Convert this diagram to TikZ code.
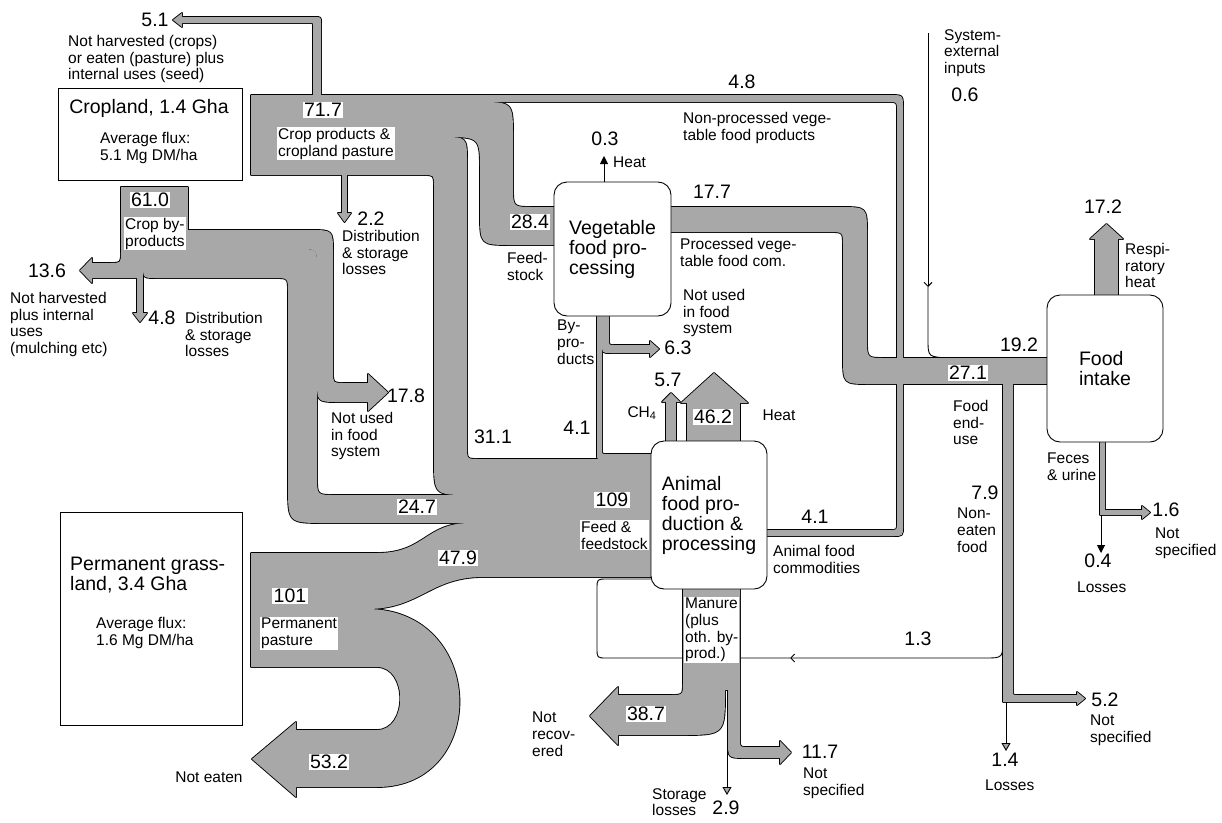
\documentclass[tikz,border=0pt]{standalone}
\usepackage{fontspec}
\setmainfont{Liberation Sans}
\usepackage{tikz}
\usetikzlibrary{arrows.meta}
\definecolor{BandGray}{HTML}{A8A8A8}
\newcommand{\numfont}{\fontsize{19.5}{21}\selectfont}
\newcommand{\lblfont}{\fontsize{15.5}{16.7}\selectfont}
\newcommand{\ttlfont}{\fontsize{19.5}{20}\selectfont}

\begin{document}
\begin{tikzpicture}[
  x=1pt,y=-1pt,
  band/.style={fill=BandGray},
  bandedge/.style={draw=black,line width=1.8pt,line join=round},
  procbox/.style={draw,fill=white,rounded corners=13pt,line width=0.9pt,align=left,font=\ttlfont,inner sep=0pt},
  landbox/.style={draw,fill=white,line width=0.9pt,inner sep=0pt},
  num/.style={font=\numfont,inner sep=0pt},
  tag/.style={num,fill=white,inner sep=1.5pt},
  lbl/.style={font=\lblfont,align=left,inner sep=0pt,anchor=north west},
  lbltag/.style={lbl,fill=white,inner sep=1pt},
  flowline/.style={line width=0.9pt},
  tip/.style={-{Triangle[length=8pt,width=8pt]}},
  opentip/.style={-{Triangle[length=8pt,width=9pt,fill=BandGray]}},
  barb/.style={-{Straight Barb[length=4pt,width=8pt]}},
  % cropland: crop products and by-products
  stem61/.style={insert path={(121,187) -- (188,187) -- (188,252) -- (121,252) -- cycle}},
  f51/.style={insert path={(313,100) -- (313,25) .. controls (313,23) .. (311,23) -- (178,23) -- (178,17) -- (315,17) .. controls (321,17) .. (321,23) -- (321,100) -- cycle}},
  h51/.style={insert path={(182,13) -- (173,20) -- (182,27) -- cycle}},
  f48top/.style={insert path={(251,95) -- (890,95) .. controls (903,95) .. (903,108) -- (903,372) -- (897,372) -- (897,110) .. controls (897,102) .. (889,102) -- (251,102) -- cycle}},
  f284/.style={insert path={(251,102) -- (478,102) .. controls (513,102) .. (513,137) -- (513,187) .. controls (513,207) .. (533,207) -- (565,207) -- (565,245) -- (512,245) .. controls (480,245) .. (480,213) -- (480,172) .. controls (480,137) .. (443,137) -- (251,137) -- cycle}},
  f311/.style={insert path={(251,137) -- (442,137) .. controls (467,137) .. (467,162) -- (467,447) .. controls (467,459) .. (479,459) -- (660,459) -- (660,495) -- (470,495) .. controls (434,495) .. (434,459) -- (434,186) .. controls (434,175) .. (423,175) -- (251,175) -- cycle}},
  f22/.style={insert path={(342,170) -- (347,170) -- (347,215) -- (342,215) -- cycle}},
  h22/.style={insert path={(338,213) -- (344.5,222) -- (351,213) -- cycle}},
  f136/.style={insert path={(121,240) -- (140,240) -- (140,278) -- (88,278) -- (88,263) -- (110,263) .. controls (121,263) .. (121,252) -- cycle}},
  h136/.style={insert path={(92,258) -- (80,270.5) -- (92,283) -- cycle}},
  f48low/.style={insert path={(137,240) -- (143,240) -- (143,315) -- (137,315) -- cycle}},
  h48low/.style={insert path={(133,313) -- (140,322) -- (147,313) -- cycle}},
  f178/.style={insert path={(140,230) -- (310,230) .. controls (333,230) .. (333,253) -- (333,372) .. controls (333,383) .. (344,383) -- (372,383) -- (372,402) -- (339,402) .. controls (317,402) .. (317,380) -- (317,267) .. controls (317,249) .. (299,249) -- (140,249) -- cycle}},
  h178/.style={insert path={(368,374) -- (388,392.5) -- (368,411) -- cycle}},
  f247/.style={insert path={(143,249) -- (299,249) .. controls (317,249) .. (317,267) -- (317,477) .. controls (317,495) .. (335,495) -- (660,495) -- (660,523) -- (325,523) .. controls (288,523) .. (288,486) -- (288,292) .. controls (288,278) .. (274,278) -- (156,278) .. controls (143,278) .. (143,265) -- cycle}},
  % permanent grassland
  f479/.style={insert path={(251,553) -- (377,553) .. controls (425,553) and (425,523) .. (470,523) -- (660,523) -- (660,577) -- (483,577) .. controls (430,577) and (420,609) .. (367,609) -- (251,609) -- cycle}},
  f532/.style={insert path={(251,609) -- (367,609) .. controls (487,609) and (490,787) .. (377,787) -- (290,787) -- (290,730) -- (377,730) .. controls (408,730) and (408,667) .. (377,667) -- (251,667) -- cycle}},
  h532/.style={insert path={(296,722) -- (252,759) -- (296,797) -- cycle}},
  % vegetable processing
  f41veg/.style={insert path={(597,305) -- (602,305) -- (602,450) .. controls (602,454) .. (606,454) -- (660,454) -- (660,459) -- (601,459) .. controls (597,459) .. (597,455) -- cycle}},
  f63/.style={insert path={(602,305) -- (609,305) -- (609,340) .. controls (609,345) .. (614,345) -- (652,345) -- (652,353) -- (611,353) .. controls (602,353) .. (602,344) -- cycle}},
  h63/.style={insert path={(650,341) -- (659,349) -- (650,357) -- cycle}},
  f177/.style={insert path={(660,207) -- (840,207) .. controls (867,207) .. (867,234) -- (867,340) .. controls (867,358) .. (885,358) -- (900,358) -- (900,384) -- (870,384) .. controls (843,384) .. (843,357) -- (843,246) .. controls (843,232) .. (829,232) -- (660,232) -- cycle}},
  % animal food production
  fch4/.style={insert path={(666,450) -- (666,400) -- (676,400) -- (676,450) -- cycle}},
  hch4/.style={insert path={(662,402) -- (671,393) -- (680,402) -- cycle}},
  fheat/.style={insert path={(687,450) -- (687,400) -- (740,400) -- (740,450) -- cycle}},
  hheat/.style={insert path={(681,403) -- (714,373) -- (748,403) -- cycle}},
  f41ani/.style={insert path={(755,530) -- (890,530) .. controls (897,530) .. (897,523) -- (897,378) -- (903,378) -- (903,526) .. controls (903,536) .. (893,536) -- (755,536) -- cycle}},
  f387/.style={insert path={(683,580) -- (725,580) -- (725,690) .. controls (725,735) .. (680,735) -- (612,735) -- (612,695) -- (670,695) .. controls (683,695) .. (683,682) -- cycle}},
  h387/.style={insert path={(618,687) -- (590,716) -- (618,745) -- cycle}},
  f117/.style={insert path={(725,580) -- (740,580) -- (740,740) .. controls (740,747) .. (747,747) -- (782,747) -- (782,758) -- (745,758) .. controls (728,758) .. (728,741) -- (728,690) -- (725,690) -- cycle}},
  h117/.style={insert path={(780,741) -- (791,752.5) -- (780,764) -- cycle}},
  % food end-use and intake
  fjunc/.style={insert path={(880,358) -- (1055,358) -- (1055,384) -- (880,384) -- cycle}},
  f52/.style={insert path={(1003,378) -- (1013,378) -- (1013,691) .. controls (1013,695) .. (1017,695) -- (1080,695) -- (1080,702) -- (1003,702) -- cycle}},
  h52/.style={insert path={(1077,692) -- (1085,698.5) -- (1077,705) -- cycle}},
  fresp/.style={insert path={(1095,300) -- (1095,237) -- (1118,237) -- (1118,300) -- cycle}},
  hresp/.style={insert path={(1090,239) -- (1106.5,224) -- (1123,239) -- cycle}},
  ffeces/.style={insert path={(1100,436) -- (1105,436) -- (1105,510) -- (1144,510) -- (1144,515) -- (1100,515) -- cycle}},
  h16/.style={insert path={(1142,506) -- (1150,512.5) -- (1142,519) -- cycle}}
]
  \useasboundingbox[fill=white] (0,0) rectangle (1222,822);

  % thin flows that run under the bands
  \coordinate (extin) at (928,33);
  \coordinate (extmid) at (928,287);
  \coordinate (extend) at (950,358);
  \coordinate (retstart) at (1003,638);
  \coordinate (retmid) at (790,658);
  \coordinate (retin) at (651,579);
  \draw[flowline,barb] (extin) -- (extmid);
  \draw[flowline] (extmid) -- (928,340) .. controls (928,357) .. (extend);
  \draw[flowline,barb] (retstart) .. controls (1003,658) .. (985,658) -- (retmid);
  \draw[flowline] (retmid) -- (607,658) .. controls (597,658) .. (597,648) -- (597,589) .. controls (597,579) .. (607,579) -- (retin);

  % bands: outline pass, then fill pass
  \def\bandlist{stem61,f51,h51,f48top,f284,f311,f22,h22,f136,h136,f48low,h48low,f178,h178,f247,f479,f532,h532,f41veg,f63,h63,f177,fch4,hch4,fheat,hheat,f41ani,f387,h387,f117,h117,fjunc,f52,h52,fresp,hresp,ffeces,h16}
  \foreach \b in \bandlist {\path[bandedge,\b];}
  \foreach \b in \bandlist {\path[band,\b];}

  % land and process boxes
  \node[landbox,minimum width=184pt,minimum height=92pt] (crop) at (150,134) {};
  \node[font=\ttlfont,inner sep=0pt] (tcrop) at (149,108) {Cropland, 1.4 Gha};
  \node[lbl] (fcrop) at (100,132) {Average flux:\\5.1 Mg DM/ha};
  \node[landbox,minimum width=182pt,minimum height=213pt] (grass) at (151,618.5) {};
  \node[lbl,font=\ttlfont] (tgrass) at (70,557) {Permanent grass-\\land, 3.4 Gha};
  \node[lbl] (fgrass) at (96,617) {Average flux:\\1.6 Mg DM/ha};
  \node[procbox,minimum width=117pt,minimum height=134pt] (veg) at (612.5,249) {Vegetable\\food pro-\\cessing};
  \node[procbox,minimum width=116pt,minimum height=148pt] (anim) at (709,515) {Animal\\food pro-\\duction \&\\processing};
  \node[procbox,minimum width=116pt,minimum height=147pt] (intake) at (1105,368.5) {Food\\intake};

  % single-line flows
  \coordinate (heattip) at (604,156);
  \coordinate (fecsplit) at (1101,515);
  \coordinate (loss04) at (1101,553);
  \coordinate (split14) at (1006,702);
  \coordinate (loss14) at (1006,751);
  \coordinate (split29) at (727,690);
  \coordinate (loss29) at (727,795);
  \draw[flowline,tip] (veg.north -| heattip) -- (heattip);
  \draw[flowline,tip] (fecsplit) -- (loss04);
  \draw[flowline,opentip] (split14) -- (loss14);
  \draw[flowline,opentip] (split29) -- (loss29);

  % cropland labels
  \node[num] (v51) at (155,20) {5.1};
  \node[lbl] (t51) at (68,35) {Not harvested (crops)\\or eaten (pasture) plus\\internal uses (seed)};
  \node[tag] (v717) at (323,110) {71.7};
  \node[lbltag] (t717) at (277,127) {Crop products \&\\cropland pasture};
  \node[tag] (v610) at (150,200) {61.0};
  \node[lbltag] (t610) at (124,217) {Crop by-\\products};
  \node[num] (v22) at (371,219) {2.2};
  \node[lbl] (t22) at (342,230) {Distribution\\\& storage\\losses};
  \node[num] (v136) at (47,271) {13.6};
  \node[lbl] (t136) at (10,292) {Not harvested\\plus internal\\uses\\(mulching etc)};
  \node[num] (v48b) at (162,318) {4.8};
  \node[lbl] (t48b) at (185,312) {Distribution\\\& storage\\losses};
  \node[num] (v178) at (406,396) {17.8};
  \node[lbl] (t178) at (331,412) {Not used\\in food\\system};
  \node[tag] (v247) at (417,507) {24.7};
  \node[num] (v311) at (493,437) {31.1};

  % grassland labels
  \node[tag] (v479) at (458,558) {47.9};
  \node[tag] (v101) at (290,596) {101};
  \node[lbltag] (t101) at (260,617) {Permanent\\pasture};
  \node[tag] (v532) at (329,762) {53.2};
  \node[font=\lblfont,inner sep=0pt] (t532) at (209,777) {Not eaten};

  % vegetable processing labels
  \node[num] (v48a) at (742,82) {4.8};
  \node[lbl] (t48a) at (683,112) {Non-processed vege-\\table food products};
  \node[num] (v03) at (605,139) {0.3};
  \node[lbl] (t03) at (613,157) {Heat};
  \node[num] (v177) at (712,192) {17.7};
  \node[tag] (v284) at (530,222) {28.4};
  \node[lbl] (t284) at (507,252) {Feed-\\stock};
  \node[lbl] (t177) at (680,238) {Processed vege-\\table food com.};
  \node[lbl] (t63) at (683,289) {Not used\\in food\\system};
  \node[num] (v63) at (678,348) {6.3};
  \node[lbl] (tbyp) at (557,320) {By-\\pro-\\ducts};
  \node[num] (v41a) at (577,428) {4.1};

  % animal food labels
  \node[num] (v57) at (668,380) {5.7};
  \node[font=\lblfont,inner sep=0pt] (tch4) at (642,413) {CH\textsubscript{4}};
  \node[tag] (v462) at (713,417) {46.2};
  \node[font=\lblfont,inner sep=0pt] (theat) at (779,415) {Heat};
  \node[tag] (v109) at (612,500) {109};
  \node[lbltag] (t109) at (580,520) {Feed \&\\feedstock};
  \node[num] (v41b) at (815,517) {4.1};
  \node[lbl] (t41b) at (773,545) {Animal food\\commodities};
  \node[lbltag] (tman) at (684,597) {Manure\\(plus\\oth. by-\\prod.)};
  \node[tag] (v387) at (646,714) {38.7};
  \node[lbl] (t387) at (532,712) {Not\\recov-\\ered};
  \node[num] (v117) at (820,752) {11.7};
  \node[lbl] (t117) at (803,768) {Not\\specified};
  \node[lbl] (t29) at (652,788) {Storage\\losses};
  \node[num] (v29) at (726,808) {2.9};
  \node[num] (v13) at (918,639) {1.3};

  % food end-use and intake labels
  \node[lbl] (tin) at (944,29) {System-\\external\\inputs};
  \node[num] (v06) at (965,95) {0.6};
  \node[num] (v172) at (1103,207) {17.2};
  \node[lbl] (t172) at (1125,243) {Respi-\\ratory\\heat};
  \node[num] (v192) at (1019,345) {19.2};
  \node[tag] (v271) at (968,373) {27.1};
  \node[lbl] (t271) at (953,400) {Food\\end-\\use};
  \node[lbl] (tfec) at (1047,453) {Feces\\\& urine};
  \node[num] (v79) at (985,493) {7.9};
  \node[lbl] (t79) at (957,508) {Non-\\eaten\\food};
  \node[num] (v16) at (1166,510) {1.6};
  \node[lbl] (t16) at (1155,528) {Not\\specified};
  \node[num] (v04) at (1098,561) {0.4};
  \node[lbl] (t04) at (1077,582) {Losses};
  \node[num] (v52) at (1105,700) {5.2};
  \node[lbl] (t52) at (1090,715) {Not\\specified};
  \node[num] (v14) at (1005,760) {1.4};
  \node[lbl] (t14) at (985,780) {Losses};
\end{tikzpicture}
\end{document}
